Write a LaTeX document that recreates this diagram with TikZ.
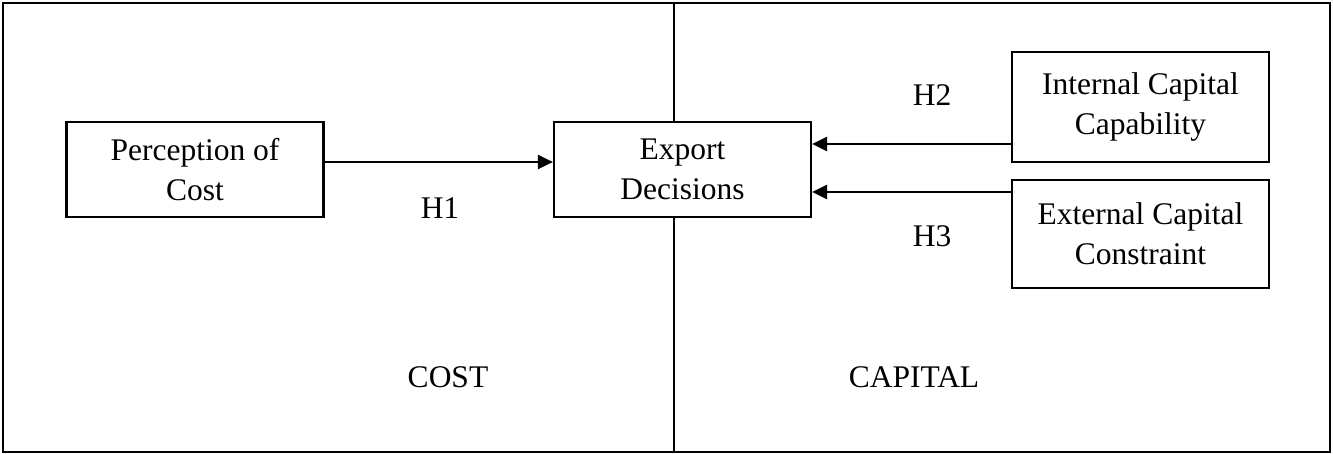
\documentclass[tikz,border=0pt]{standalone}
\usepackage{fontspec}
\setmainfont{Liberation Serif}
\usetikzlibrary{arrows.meta}
\tikzset{
  box/.style={draw, line width=2.2pt, fill=white, align=center, inner sep=0pt,
    font=\fontsize{31.5}{40}\selectfont},
  hlabel/.style={font=\fontsize{31.5}{36}\selectfont},
  link/.style={line width=2.4pt, -{Triangle[length=15pt,width=14pt]}}
}
\begin{document}
\begin{tikzpicture}[x=1pt,y=-1pt]
    \useasboundingbox (0,0) rectangle (1333,454);
    \draw[line width=2pt] (3,3) rectangle (1330,452);
    \draw[line width=1.5pt] (674,3) -- (674,452);

    \node[box, minimum width=257pt, minimum height=95pt] (perc) at (195,169.5) {Perception of\\Cost};
    \node[box, minimum width=257pt, minimum height=95pt] (exp) at (682.5,169.5) {Export\\Decisions};
    \node[box, minimum width=257pt, minimum height=110pt] (int) at (1140.5,107) {Internal Capital\\Capability};
    \node[box, minimum width=257pt, minimum height=108pt] (ext) at (1140.5,234) {External Capital\\Constraint};

    \draw[link] (perc.east |- 0,162) -- (exp.west |- 0,162);
    \draw[link] (int.west |- 0,144) -- (exp.east |- 0,144);
    \draw[link] (ext.west |- 0,192) -- (exp.east |- 0,192);

    \node[hlabel] (h1) at (440,208) {H1};
    \node[hlabel] (h2) at (932,95) {H2};
    \node[hlabel] (h3) at (932,236) {H3};

    \node[hlabel] (cost) at (448,377) {COST};
    \node[hlabel] (capital) at (914,377) {CAPITAL};
\end{tikzpicture}
\end{document}
